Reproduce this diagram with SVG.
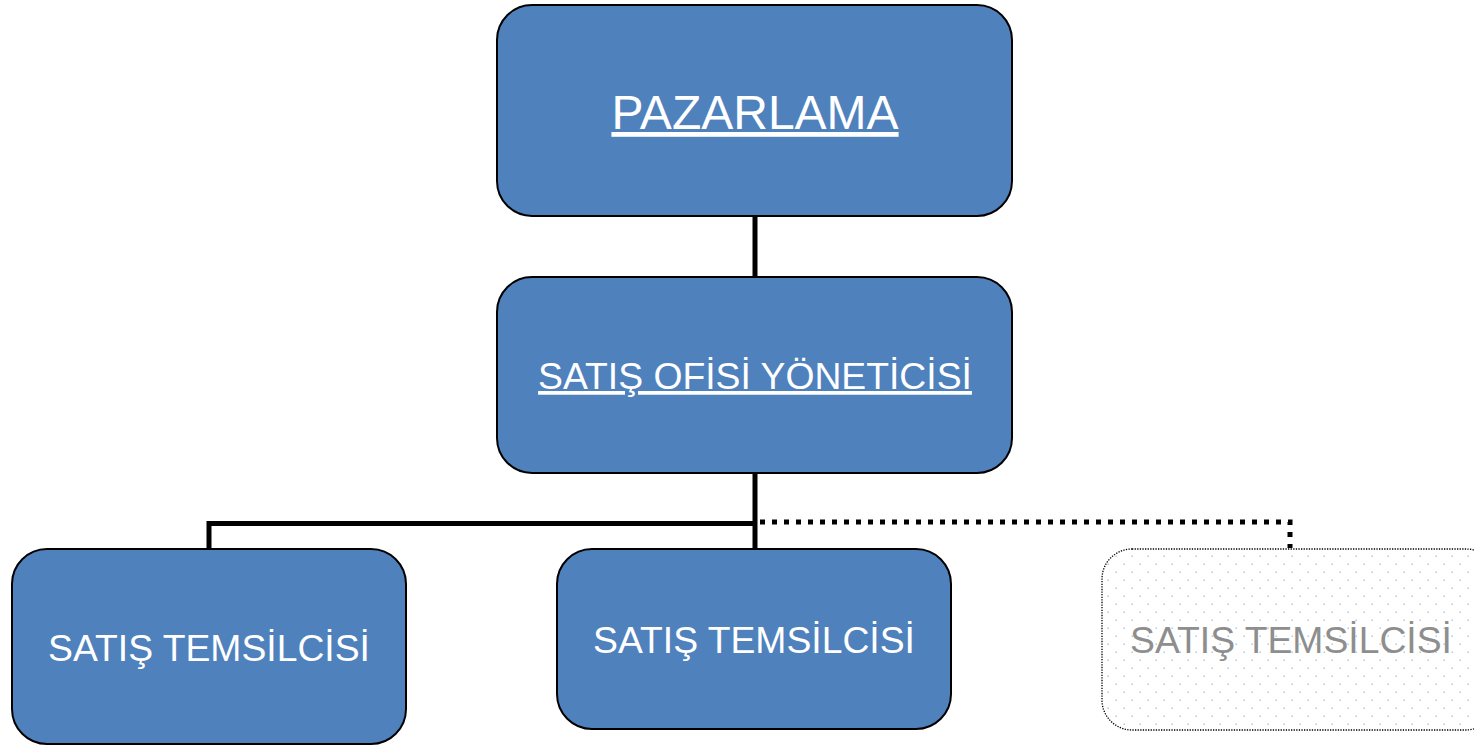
<svg xmlns="http://www.w3.org/2000/svg" width="1474" height="745" viewBox="0 0 1474 745">
<style>
.box{fill:#4f81bd;stroke:#000;stroke-width:2}
.lbl{font-family:"Liberation Sans",Arial,sans-serif;fill:#fff;text-anchor:middle}
.conn{stroke:#000;stroke-width:5;fill:none}
.dot{stroke:#000;stroke-width:5;fill:none;stroke-dasharray:5 7}
</style>
<defs>
<pattern id="dots" width="16" height="16" patternUnits="userSpaceOnUse">
<rect x="3.5" y="3.5" width="1.4" height="1.4" fill="#a9c0dc"/>
<rect x="11.5" y="11.5" width="1.4" height="1.4" fill="#a9c0dc"/>
</pattern>
</defs>
<rect width="1474" height="745" fill="#fff"/>
<g id="connectors">
<line class="conn" x1="755" y1="216" x2="755" y2="278"/>
<line class="conn" x1="755" y1="473" x2="755" y2="550"/>
<polyline class="conn" points="209,550 209,523.5 755,523.5"/>
<polyline class="dot" points="760,522 1290,522 1290,548"/>
</g>
<g id="pazarlama">
<rect class="box" x="497" y="5" width="515" height="211" rx="35"/>
<text class="lbl" x="755" y="129" font-size="48" text-decoration="underline">PAZARLAMA</text>
</g>
<g id="satis-ofisi">
<rect class="box" x="497" y="277" width="515" height="196" rx="35"/>
<text class="lbl" x="755" y="389" font-size="37.3" text-decoration="underline">SATIŞ OFİSİ YÖNETİCİSİ</text>
</g>
<g id="temsilci1">
<rect class="box" x="12" y="549" width="394" height="195" rx="35"/>
<text class="lbl" x="209" y="661" font-size="37.3">SATIŞ TEMSİLCİSİ</text>
</g>
<g id="temsilci2">
<rect class="box" x="557" y="549" width="394" height="180" rx="35"/>
<text class="lbl" x="754" y="653" font-size="37.3">SATIŞ TEMSİLCİSİ</text>
</g>
<g id="temsilci3">
<rect x="1102" y="549" width="394" height="181" rx="30" fill="url(#dots)" stroke="#000" stroke-width="1.3" stroke-dasharray="1.3 1.3"/>
<text class="lbl" x="1291" y="653" font-size="37.3" style="fill:#8e8e8e">SATIŞ TEMSİLCİSİ</text>
</g>
</svg>
